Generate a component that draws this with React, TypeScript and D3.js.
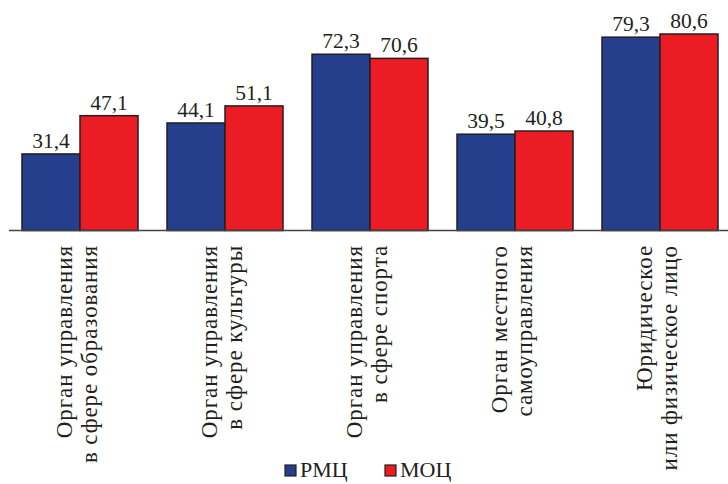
import React from "react";
import * as d3 from "d3";

const categories = ["edu", "culture", "sport", "local", "legal"];
const categoryLines: string[][] = [
  ["Орган управления", "в сфере образования"],
  ["Орган управления", "в сфере культуры"],
  ["Орган управления", "в сфере спорта"],
  ["Орган местного", "самоуправления"],
  ["Юридическое", "или физическое лицо"],
];
const seriesNames = ["РМЦ", "МОЦ"];
const rmcValues = [31.4, 44.1, 72.3, 39.5, 79.3];
const mocValues = [47.1, 51.1, 70.6, 40.8, 80.6];
const seriesColors = ["#263f8c", "#ec1c24"];

const W = 728;
const H = 484;
const FONT = "Liberation Serif, DejaVu Serif, serif";
const TEXT = "#231f20";

export default function App() {
  const baseY = 230.5;
  const x = d3.scaleBand<string>().domain(categories).range([22, 718]).paddingInner(0.2).paddingOuter(0);
  const x1 = d3.scaleBand<string>().domain(seriesNames).range([0, x.bandwidth()]).padding(0);
  const y = d3.scaleLinear().domain([0, 80.6]).range([baseY, 34]);
  const fmt = (v: number) => v.toFixed(1).replace(".", ",");
  const series = [rmcValues, mocValues];
  const ts = { fontFamily: FONT };

  return (
    <svg width={W} height={H} style={{ position: "absolute", left: 0, top: 0, background: "#fff" }}>
      {categories.map((c, i) => (
        <g key={c} transform={`translate(${x(c)},0)`}>
          {series.map((vals, s) => {
            const bx = x1(seriesNames[s])!;
            const bw = x1.bandwidth();
            const v = vals[i];
            return (
              <g key={s}>
                <rect x={bx} y={y(v)} width={bw} height={baseY - y(v)} fill={seriesColors[s]} stroke="#231f20" strokeWidth={1.5} />
                <text x={bx + bw / 2} y={y(v) - 6} textAnchor="middle" fontSize={21.5} fill={TEXT} style={ts}>
                  {fmt(v)}
                </text>
              </g>
            );
          })}
        </g>
      ))}
      <line x1={9} x2={W} y1={baseY} y2={baseY} stroke="#444" strokeWidth={1.5} />
      {categories.map((c, i) => {
        const cx = x(c)! + x.bandwidth() / 2;
        return (
          <g key={"l" + c}>
            {categoryLines[i].map((line, j) => (
              <text
                key={j}
                transform={`translate(${cx + (j === 0 ? -8 : 16.5)},245) rotate(-90)`}
                textAnchor="end"
                fontSize={23}
                letterSpacing={0.9}
                fill={TEXT}
                style={ts}
              >
                {line}
              </text>
            ))}
          </g>
        );
      })}
      <g>
        {seriesNames.map((n, s) => {
          const lx = s === 0 ? 285 : 385;
          return (
            <g key={n}>
              <rect x={lx} y={465} width={11} height={11} fill={seriesColors[s]} stroke="#231f20" strokeWidth={1.2} />
              <text x={lx + 15} y={477} fontSize={22} fill={TEXT} style={ts}>
                {n}
              </text>
            </g>
          );
        })}
      </g>
    </svg>
  );
}
